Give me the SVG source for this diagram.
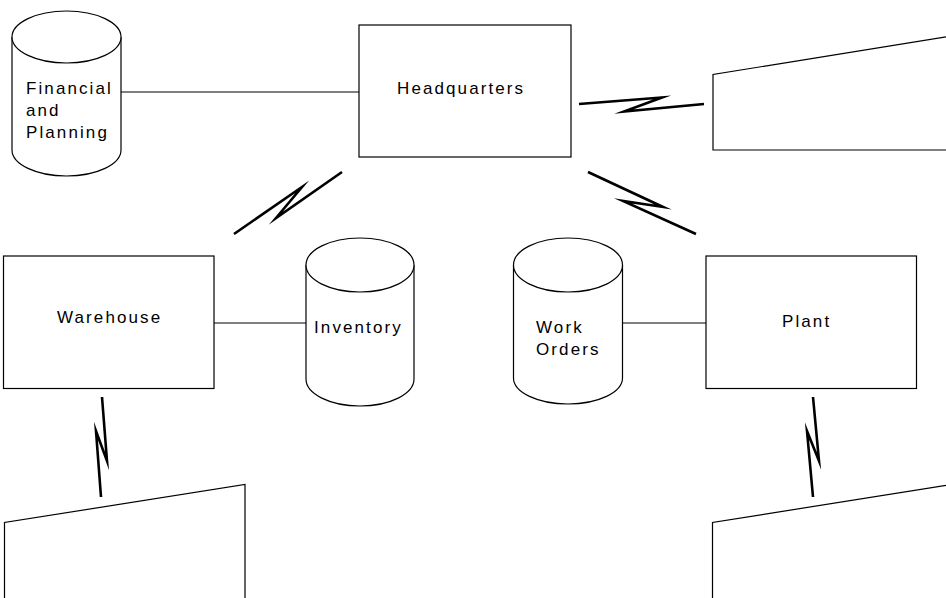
<svg xmlns="http://www.w3.org/2000/svg" width="946" height="598" viewBox="0 0 946 598">
<style>
.shape{fill:#fff;stroke:#000;stroke-width:1.2}
.open{fill:none;stroke:#000;stroke-width:1.2}
.link{fill:none;stroke:#000;stroke-width:1.2}
.bolt{fill:none;stroke:#000;stroke-width:2.6;stroke-linejoin:miter;stroke-miterlimit:20}
.lbl{font-family:"Liberation Sans",Arial,sans-serif;font-size:17px;letter-spacing:2.1px;fill:#000}
</style>
<rect width="946" height="598" fill="#fff"/>
<g id="connectors">
<line class="link" x1="121" y1="92" x2="359" y2="92"/>
<line class="link" x1="214" y1="323" x2="306" y2="323"/>
<line class="link" x1="622.5" y1="323" x2="706" y2="323"/>
<polyline class="bolt" points="579,104 662,97.5 624,111.5 704,104"/>
<polyline class="bolt" points="234,234 302,187 276,218 342,172"/>
<polyline class="bolt" points="588,172 663,207 623,201 696,234"/>
<polyline class="bolt" points="102,397 107,461 96,431 101,497"/>
<polyline class="bolt" points="813,397 819,461 807,431 813,497"/>
</g>
<g id="financial">
<path class="shape" d="M12,37 V150 A54.5,26 0 0 0 121,150 V37"/>
<ellipse class="shape" cx="66.5" cy="37" rx="54.5" ry="26"/>
<text class="lbl" x="26" y="94">Financial</text>
<text class="lbl" x="26" y="116">and</text>
<text class="lbl" x="26" y="138">Planning</text>
</g>
<g id="headquarters">
<rect class="shape" x="359" y="25" width="212" height="132"/>
<text class="lbl" x="397" y="94">Headquarters</text>
</g>
<g id="remote-top-right">
<path class="open" d="M948,36.5 L713,74.5 V150 H948"/>
</g>
<g id="warehouse">
<rect class="shape" x="3.5" y="256" width="210.5" height="132.5"/>
<text class="lbl" x="57" y="323">Warehouse</text>
</g>
<g id="inventory">
<path class="shape" d="M306,265 V379 A54,27 0 0 0 414,379 V265"/>
<ellipse class="shape" cx="360" cy="265" rx="54" ry="27"/>
<text class="lbl" x="314" y="333">Inventory</text>
</g>
<g id="work-orders">
<path class="shape" d="M513.5,265 V378 A54.5,26 0 0 0 622.5,378 V265"/>
<ellipse class="shape" cx="568" cy="265" rx="54.5" ry="27"/>
<text class="lbl" x="536" y="333">Work</text>
<text class="lbl" x="536" y="355">Orders</text>
</g>
<g id="plant">
<rect class="shape" x="706" y="256" width="210.5" height="132.5"/>
<text class="lbl" x="782" y="327">Plant</text>
</g>
<g id="remote-bottom-left">
<path class="open" d="M4.5,600 V522.5 L245,484.5 V600"/>
</g>
<g id="remote-bottom-right">
<path class="open" d="M712.5,600 V522.5 L948,485"/>
</g>
</svg>
